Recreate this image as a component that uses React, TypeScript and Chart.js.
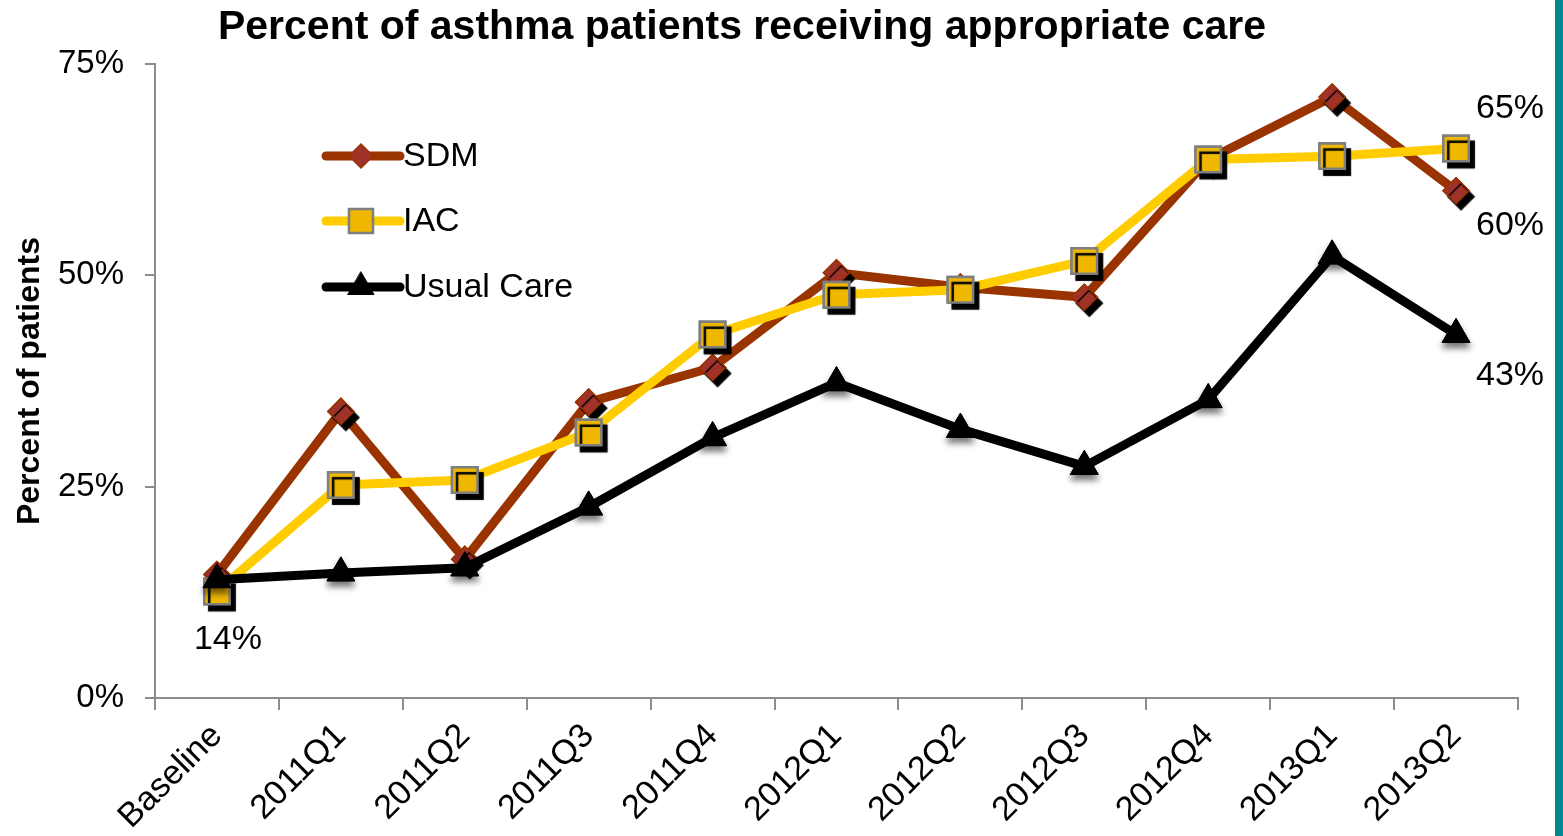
import { useEffect, useRef } from 'react';
import { Chart, registerables, PointElement } from 'chart.js';

Chart.register(...registerables);

// ---- data ----
const categories = [
  'Baseline', '2011Q1', '2011Q2', '2011Q3', '2011Q4',
  '2012Q1', '2012Q2', '2012Q3', '2012Q4', '2013Q1', '2013Q2',
];
const sdmValues = [14.6, 33.9, 16.4, 35.0, 39.1, 50.3, 48.6, 47.4, 63.7, 71.1, 60];
const iacValues = [12.6, 25.2, 25.8, 31.4, 43.0, 47.7, 48.3, 51.7, 63.7, 64.1, 65];
const usualCareValues = [14, 14.8, 15.4, 22.6, 30.8, 37.3, 31.8, 27.4, 35.3, 52.3, 43];
const seriesNames = ['SDM', 'IAC', 'Usual Care'];
const yTickValues = [0, 25, 50, 75];

const titleText = 'Percent of asthma patients receiving appropriate care';
const yAxisTitle = 'Percent of patients';

// ---- styling ----
const FONT = "'Liberation Sans', Arial, Helvetica, sans-serif";
const AXIS_GREY = '#8c8c8c';
const TEAL = '#00898f';

// value callouts: [dataset, point index, dx, dy]
const callouts: Array<[number, number, number, number]> = [
  [2, 0, 11, 60],
  [1, 10, 54, -40],
  [0, 10, 54, 35],
  [2, 10, 54, 41],
];

const frameDecor = {
  id: 'frameDecor',
  beforeDraw(chart: any) {
    const { ctx, width, height } = chart;
    ctx.save();
    ctx.fillStyle = '#ffffff';
    ctx.fillRect(0, 0, width, height);
    ctx.fillStyle = TEAL;
    ctx.fillRect(width - 8, 0, 8, height);
    ctx.restore();
  },
  afterDraw(chart: any) {
    const { ctx } = chart;
    ctx.save();
    ctx.fillStyle = '#000';
    ctx.font = `bold 41px ${FONT}`;
    ctx.textAlign = 'center';
    ctx.textBaseline = 'middle';
    ctx.fillText(titleText, 742, 28);
    ctx.restore();
  },
};

const markerShadow = {
  id: 'markerShadow',
  afterDatasetDraw(chart: any, args: any) {
    const ds = chart.data.datasets[args.index];
    const sh = ds.markerShadow;
    if (!sh) return;
    const ctx = chart.ctx;
    ctx.save();
    ctx.shadowColor = sh.color;
    ctx.shadowBlur = sh.blur;
    ctx.shadowOffsetX = sh.x;
    ctx.shadowOffsetY = sh.y;
    args.meta.data.forEach((pt: any) => pt.draw(ctx, chart.chartArea));
    ctx.restore();
  },
};

const insideLegend = {
  id: 'insideLegend',
  afterDraw(chart: any) {
    const { ctx } = chart;
    const rows = [156, 221, 287];
    const x0 = 326;
    const x1 = 400;
    const xm = 361;
    chart.data.datasets.forEach((ds: any, i: number) => {
      const y = rows[i];
      ctx.save();
      ctx.strokeStyle = ds.borderColor;
      ctx.lineWidth = ds.borderWidth;
      ctx.lineCap = 'round';
      ctx.beginPath();
      ctx.moveTo(x0, y);
      ctx.lineTo(x1, y);
      ctx.stroke();
      const meta = chart.getDatasetMeta(i);
      const opts = meta.data[0].options;
      const marker = new PointElement({
        x: xm,
        y,
        options: {
          pointStyle: opts.pointStyle,
          radius: opts.radius - 1,
          rotation: 0,
          borderWidth: opts.borderWidth,
          borderColor: opts.borderColor,
          backgroundColor: opts.backgroundColor,
        },
      } as any);
      marker.draw(ctx);
      ctx.fillStyle = '#000';
      ctx.font = `34px ${FONT}`;
      ctx.textAlign = 'left';
      ctx.textBaseline = 'middle';
      ctx.fillText(ds.label, 403, y + 1);
      ctx.restore();
    });
  },
};

const valueCallouts = {
  id: 'valueCallouts',
  afterDraw(chart: any) {
    const { ctx } = chart;
    ctx.save();
    ctx.fillStyle = '#000';
    ctx.font = `34px ${FONT}`;
    ctx.textAlign = 'center';
    ctx.textBaseline = 'middle';
    callouts.forEach(([d, idx, dx, dy]) => {
      const pt = chart.getDatasetMeta(d).data[idx];
      const v = chart.data.datasets[d].data[idx] as number;
      ctx.fillText(`${Math.round(v)}%`, pt.x + dx, pt.y + dy);
    });
    ctx.restore();
  },
};

export default function App() {
  const canvasRef = useRef<HTMLCanvasElement | null>(null);

  useEffect(() => {
    const canvas = canvasRef.current;
    if (!canvas) return;

    const tickFont = { family: FONT, size: 34 };

    const chart = new Chart(canvas, {
      type: 'line',
      data: {
        labels: categories,
        datasets: [
          {
            label: seriesNames[0],
            data: sdmValues,
            borderColor: '#993300',
            borderWidth: 9,
            pointStyle: 'rectRot',
            pointRadius: 13,
            pointBackgroundColor: '#a0322a',
            pointBorderColor: '#993300',
            pointBorderWidth: 1.5,
            order: 3,
            markerShadow: { color: 'rgba(0,0,0,1)', blur: 1, x: 5, y: 6 },
          } as any,
          {
            label: seriesNames[1],
            data: iacValues,
            borderColor: '#ffcc00',
            borderWidth: 9,
            pointStyle: 'rect',
            pointRadius: 18,
            pointBackgroundColor: '#efb700',
            pointBorderColor: '#7f7f7f',
            pointBorderWidth: 2.5,
            order: 2,
            markerShadow: { color: 'rgba(0,0,0,1)', blur: 1, x: 5, y: 6 },
          } as any,
          {
            label: seriesNames[2],
            data: usualCareValues,
            borderColor: '#000000',
            borderWidth: 9,
            pointStyle: 'triangle',
            pointRadius: 16,
            pointBackgroundColor: '#000000',
            pointBorderColor: '#000000',
            pointBorderWidth: 1,
            order: 1,
            markerShadow: { color: 'rgba(0,0,0,0.55)', blur: 6, x: 0, y: 5 },
          } as any,
        ],
      },
      options: {
        responsive: false,
        devicePixelRatio: 1,
        animation: false,
        events: [],
        layout: { padding: { top: 64, right: 45, left: 0, bottom: 0 } },
        elements: { line: { tension: 0, borderJoinStyle: 'round', borderCapStyle: 'round' } },
        plugins: {
          legend: { display: false },
          title: { display: false },
          tooltip: { enabled: false },
        },
        scales: {
          x: {
            offset: true,
            grid: {
              offset: true,
              drawOnChartArea: false,
              drawTicks: true,
              tickLength: 12,
              color: AXIS_GREY,
              lineWidth: 2,
            },
            border: { display: true, color: AXIS_GREY, width: 2 },
            ticks: {
              font: tickFont,
              color: '#000',
              maxRotation: 45,
              minRotation: 45,
              padding: 6,
              autoSkip: false,
            },
            afterFit: (s: any) => {
              s.height = 138;
            },
          },
          y: {
            min: 0,
            max: 75,
            afterBuildTicks: (s: any) => {
              s.ticks = yTickValues.map((v) => ({ value: v }));
            },
            ticks: {
              font: { family: FONT, size: 33 },
              color: '#000',
              padding: 21,
              callback: (v: any) => `${v}%`,
            },
            grid: {
              drawOnChartArea: false,
              drawTicks: true,
              tickLength: 10,
              color: AXIS_GREY,
              lineWidth: 2,
            },
            border: { display: true, color: AXIS_GREY, width: 2 },
            title: {
              display: true,
              text: yAxisTitle,
              color: '#000',
              font: { family: FONT, size: 32, weight: 'bold' },
              padding: { top: 11, bottom: 0 },
            },
            afterFit: (s: any) => {
              s.width = 155;
            },
          },
        },
      } as any,
      plugins: [frameDecor, markerShadow, insideLegend, valueCallouts],
    });

    return () => chart.destroy();
  }, []);

  return (
    <div style={{ position: 'fixed', left: 0, top: 0, width: 1563, height: 836, background: '#fff' }}>
      <canvas ref={canvasRef} width={1563} height={836} style={{ display: 'block' }} />
    </div>
  );
}
